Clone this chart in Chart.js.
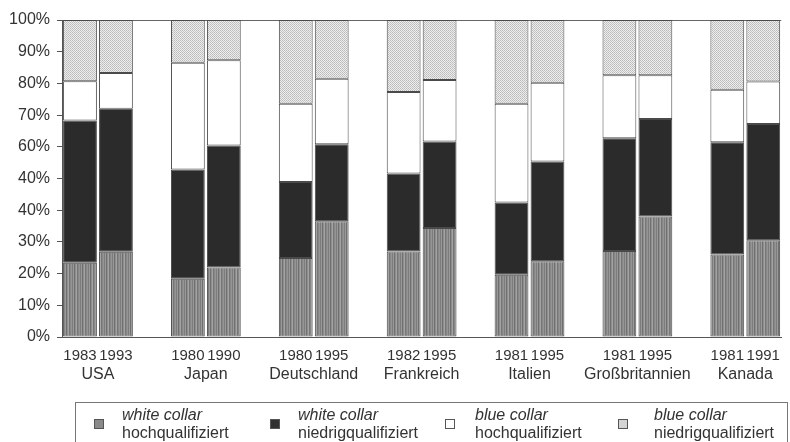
<!DOCTYPE html>
<html>
<head>
<meta charset="utf-8">
<script src="https://cdn.jsdelivr.net/npm/chart.js@4"></script>
<style>
  body { margin: 0; background: #fff; }
  #wrap { position: relative; width: 790px; height: 442px; overflow: hidden; font-family: "Liberation Sans", Arial, sans-serif; color: #333; }
  #legend { position: absolute; left: 75px; top: 402px; width: 711px; height: 60px; border: 1px solid #777; }
  .item { position: absolute; top: 3px; font-size: 16px; line-height: 18px; }
  .item i { display: block; }
  .sq { position: absolute; top: 16px; width: 10px; height: 10px; box-sizing: border-box; }
</style>
</head>
<body>
<div id="wrap">
  <canvas id="myChart" width="790" height="442"></canvas>
  <div id="legend"></div>
</div>
<script>
// data (percent shares, bottom to top)
const countries = ['USA', 'Japan', 'Deutschland', 'Frankreich', 'Italien', 'Großbritannien', 'Kanada'];
const years = ['1983', '1993', '1980', '1990', '1980', '1995', '1982', '1995', '1981', '1995', '1981', '1995', '1981', '1991'];
const wcHoch    = [23.4, 26.9, 18.4, 21.9, 24.9, 36.5, 27.0, 34.4, 19.6, 23.9, 27.1, 38.0, 26.0, 30.5];
const wcNiedrig = [44.9, 45.1, 34.4, 38.5, 24.0, 24.3, 24.6, 27.3, 22.8, 31.5, 35.6, 30.8, 35.4, 36.7];
const bcHoch    = [12.4, 11.3, 33.7, 26.9, 24.7, 20.7, 25.7, 19.4, 31.2, 24.8, 19.9, 13.8, 16.6, 13.4];
const bcNiedrig = [19.3, 16.7, 13.5, 12.7, 26.4, 18.5, 22.7, 18.9, 26.4, 19.8, 17.4, 17.4, 22.0, 19.4];
const yTickLabels = ['0%', '10%', '20%', '30%', '40%', '40%', '60%', '70%', '80%', '90%', '100%'];
const seriesNames = [
    ['white collar', 'hochqualifiziert'],
    ['white collar', 'niedrigqualifiziert'],
    ['blue collar', 'hochqualifiziert'],
    ['blue collar', 'niedrigqualifiziert']
];

// two bars per country, then an empty slot between countries
const labels = [];
function spread(values) {
    const out = [];
    countries.forEach((c, k) => {
        out.push(values[2 * k], values[2 * k + 1]);
        if (k < countries.length - 1) out.push(null);
    });
    return out;
}
countries.forEach((c, k) => {
    labels.push(years[2 * k], years[2 * k + 1]);
    if (k < countries.length - 1) labels.push('');
});
const countryTicks = countries.map((c, k) => 3 * k + 0.5);

// little fill textures like the printed original
function pattern(rows) {
    const c = document.createElement('canvas');
    c.width = rows[0].length;
    c.height = rows.length;
    const g = c.getContext('2d');
    rows.forEach((row, y) => row.forEach((col, x) => {
        g.fillStyle = col;
        g.fillRect(x, y, 1, 1);
    }));
    return g.createPattern(c, 'repeat');
}
const grayStripes = pattern([['#7c7c7c', '#9a9a9a', '#6f6f6f', '#8e8e8e', '#a3a3a3', '#767676', '#878787', '#959595']]);
const dots = pattern([['#b9b9b9', '#eeeeee'], ['#eeeeee', '#c4c4c4']]);

const fills = [grayStripes, '#2b2b2b', '#ffffff', dots];
const legendSwatch = ['#8a8a8a', '#303030', '#ffffff', '#d4d4d4'];
const seriesData = [wcHoch, wcNiedrig, bcHoch, bcNiedrig];

Chart.defaults.font.family = '"Liberation Sans", Arial, sans-serif';
Chart.defaults.font.size = 16;
Chart.defaults.color = '#333';

const ctx = document.getElementById('myChart').getContext('2d');
const chart = new Chart(ctx, {
    type: 'bar',
    data: {
        labels: labels,
        datasets: seriesData.map((vals, i) => ({
            label: seriesNames[i].join(' '),
            data: spread(vals),
            backgroundColor: fills[i],
            borderColor: '#4a4a4a',
            borderWidth: 1,
            borderSkipped: false,
            categoryPercentage: 1,
            barPercentage: 0.94
        }))
    },
    options: {
        responsive: false,
        animation: false,
        layout: { padding: { top: 20, right: 2, left: 0, bottom: 0 } },
        plugins: { legend: { display: false }, tooltip: { enabled: false } },
        scales: {
            x: {
                stacked: true,
                grid: { display: true, drawOnChartArea: false, drawTicks: false },
                border: { display: true, color: '#555', width: 1 },
                ticks: { autoSkip: false, maxRotation: 0, minRotation: 0, padding: 10, font: { size: 15 } },
                afterFit: s => { s.height = 27; }
            },
            x2: {
                type: 'linear',
                position: 'bottom',
                offset: false,
                min: -0.5,
                max: labels.length - 0.5,
                grid: { display: false, drawTicks: false, offset: false },
                border: { display: false },
                ticks: {
                    padding: 1,
                    autoSkip: false,
                    maxRotation: 0,
                    minRotation: 0,
                    callback: v => countries[countryTicks.indexOf(v)] || ''
                },
                afterBuildTicks: s => { s.ticks = countryTicks.map(v => ({ value: v })); },
                afterFit: s => { s.height = 78; }
            },
            y: {
                stacked: true,
                min: 0,
                max: 100,
                ticks: {
                    stepSize: 10,
                    padding: 7,
                    callback: (v) => yTickLabels[Math.round(v / 10)]
                },
                grid: {
                    drawOnChartArea: true,
                    tickLength: 5,
                    color: c => (c.index === yTickLabels.length - 1) ? '#666' : 'rgba(0,0,0,0)',
                    tickColor: '#555'
                },
                border: { display: true, color: '#555', width: 1 },
                afterFit: s => { s.width = 62; }
            }
        }
    }
});

// legend in html, two lines per entry
const sqLeft = [18, 194, 369, 542];
const textLeft = [46, 222, 399, 578];
const legend = document.getElementById('legend');
seriesNames.forEach((n, i) => {
    const sq = document.createElement('div');
    sq.className = 'sq';
    sq.style.left = sqLeft[i] + 'px';
    sq.style.background = legendSwatch[i];
    sq.style.border = '1px solid #555';
    legend.appendChild(sq);
    const t = document.createElement('div');
    t.className = 'item';
    t.style.left = textLeft[i] + 'px';
    t.innerHTML = '<i>' + n[0] + '</i>' + n[1];
    legend.appendChild(t);
});
</script>
</body>
</html>
